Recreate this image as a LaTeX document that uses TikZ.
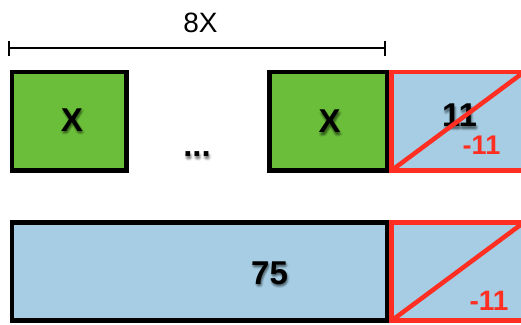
\documentclass[tikz,border=0pt]{standalone}
\usepackage{fontspec}
\setmainfont{Liberation Sans}
\usetikzlibrary{arrows.meta}
\definecolor{cellgreen}{HTML}{6BBE3A}
\definecolor{cellblue}{HTML}{A6CDE3}
\definecolor{cellred}{HTML}{FF2E22}

% label with a soft drop shadow underneath
\newcommand\softlabel[4]{%
  \foreach \sx/\sy in {0/-1.5,1/-1.5,2/-1.5,0/-2.5,1/-2.5,2/-2.5,0/-3.5,1/-3.5,2/-3.5,-1/-2.5,3/-2.5,1/-0.5,1/-4.5}{
    \node[#3, text=black, opacity=0.05, xshift=\sx pt, yshift=\sy pt] at (#2) {#4};
  }
  \node[#3] (#1) at (#2) {#4};%
}

\tikzset{
  cell/.style={draw=black, line width=4.5pt, inner sep=0pt, outer sep=0pt},
  greencell/.style={cell, fill=cellgreen},
  bluecell/.style={cell, fill=cellblue},
  redcell/.style={cell, draw=cellred, fill=cellblue},
  slash/.style={draw=cellred, line width=4.5pt},
  bigtext/.style={font=\bfseries\fontsize{33}{33}\selectfont, inner sep=0pt},
  redtext/.style={font=\bfseries\fontsize{27}{27}\selectfont, text=cellred, inner sep=0pt},
  dimtext/.style={font=\fontsize{28}{28}\selectfont, inner sep=0pt},
  dimline/.style={line width=1.8pt, {Bar[width=15pt,line width=1.8pt]}-{Bar[width=15pt,line width=1.8pt]}},
}

\begin{document}
\begin{tikzpicture}[x=1pt, y=-1pt]
  \useasboundingbox (0,0) rectangle (521,324);

  % width marker over the first eight cells
  \coordinate (dl) at (8,48);
  \coordinate (dr) at (386,48);
  \draw[dimline] (dl) -- (dr);
  \node[dimtext] (width) at (200.5,23) {8X};

  % top row: the X cells and the extra cell
  \node[greencell, minimum width=114.5pt, minimum height=98.5pt] (g1) at (69.25,121.25) {};
  \node[greencell, minimum width=117.3pt, minimum height=98.5pt] (g2) at (328.15,121.25) {};
  \node[redcell, minimum width=132.5pt, minimum height=98.5pt] (r1) at (457.75,121.25) {};
  \softlabel{l11}{459.5,115.5}{bigtext}{11}
  \draw[slash] (r1.south west) -- (r1.north east);
  \node[redtext] (m1) at (481.5,145.5) {-11};

  \softlabel{x1}{72,120}{bigtext}{X}
  \softlabel{x2}{329.5,121.5}{bigtext}{X}
  \softlabel{dots}{197,154.5}{bigtext}{...}

  % bottom row
  \node[bluecell, minimum width=374.8pt, minimum height=98.4pt] (b1) at (199.4,271.5) {};
  \node[redcell, minimum width=132.5pt, minimum height=98.4pt] (r2) at (457.75,271.5) {};
  \draw[slash] (r2.south west) -- (r2.north east);
  \softlabel{l75}{269.5,273}{bigtext}{75}
  \node[redtext, font=\bfseries\fontsize{28}{28}\selectfont] (m2) at (489,301) {-11};
\end{tikzpicture}
\end{document}
